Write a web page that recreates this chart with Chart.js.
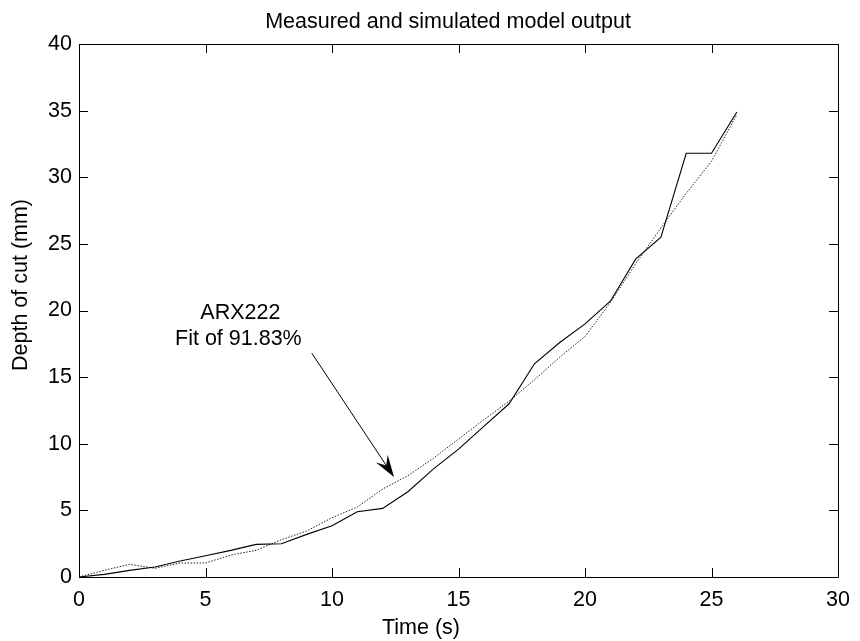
<!DOCTYPE html>
<html>
<head>
<meta charset="utf-8">
<script src="https://cdn.jsdelivr.net/npm/chart.js@4/dist/chart.umd.min.js"></script>
<style>
html,body{margin:0;padding:0;background:#fff;}
#wrap{width:860px;height:641px;}
</style>
</head>
<body>
<div id="wrap"><canvas id="c" width="860" height="641"></canvas></div>
<script>
// ---- data ----
const timeS = [0,1,2,3,4,5,6,7,8,9,10,11,12,13,14,15,16,17,18,19,20,21,22,23,24,25,26];
const measured = [0,0.2,0.5,0.75,1.2,1.6,2.0,2.45,2.5,3.2,3.85,4.9,5.15,6.4,8.1,9.6,11.3,13.0,16.0,17.6,19.0,20.7,23.85,25.5,31.8,31.8,34.9];
const simulated = [0,0.5,0.95,0.65,1.05,1.05,1.65,2.0,2.8,3.45,4.45,5.25,6.6,7.6,8.9,10.35,11.8,13.2,14.8,16.5,18.05,20.6,23.5,26.2,28.8,31.2,34.7];
const xTicks = [0,5,10,15,20,25,30];
const yTicks = [0,5,10,15,20,25,30,35,40];
const titleText = 'Measured and simulated model output';
const xTitle = 'Time (s)';
const yTitle = 'Depth of cut (mm)';
const noteLines = ['ARX222', 'Fit of 91.83%'];
const noteAt = {x: 6.3, y: 18.8};          // text centre, data units
const arrowFrom = {x: 9.2, y: 16.8};        // data units
const arrowTo = {x: 12.45, y: 7.5};         // data units

const FONT = '"Liberation Sans", Arial, Helvetica, sans-serif';
const FS = 21.5;

const toPts = (xs, ys) => xs.map((x, i) => ({x: x, y: ys[i]}));

const framePlugin = {
  id: 'frame',
  afterDraw(chart) {
    const ctx = chart.ctx, a = chart.chartArea;
    const xs = chart.scales.x, ys = chart.scales.y;
    ctx.save();
    ctx.strokeStyle = '#000';
    ctx.lineWidth = 1;
    // box
    ctx.beginPath();
    ctx.rect(Math.round(a.left) + 0.5, Math.round(a.top) + 0.5, Math.round(a.right - a.left), Math.round(a.bottom - a.top));
    ctx.stroke();
    // inward ticks on all sides
    const TL = 9;
    ctx.beginPath();
    xTicks.forEach(v => {
      const px = Math.round(xs.getPixelForValue(v)) + 0.5;
      ctx.moveTo(px, a.bottom); ctx.lineTo(px, a.bottom - TL);
      ctx.moveTo(px, a.top); ctx.lineTo(px, a.top + TL);
    });
    yTicks.forEach(v => {
      const py = Math.round(ys.getPixelForValue(v)) + 0.5;
      ctx.moveTo(a.left, py); ctx.lineTo(a.left + TL, py);
      ctx.moveTo(a.right, py); ctx.lineTo(a.right - TL, py);
    });
    ctx.stroke();
    ctx.fillStyle = '#000';
    ctx.font = FS + 'px ' + FONT;
    ctx.textAlign = 'center';
    // title
    ctx.textBaseline = 'alphabetic';
    ctx.fillText(titleText, 448, 28);
    // x axis title
    ctx.fillText(xTitle, 421, 634);
    // y axis title (rotated)
    ctx.save();
    ctx.translate(27, 285);
    ctx.rotate(-Math.PI / 2);
    ctx.fillText(yTitle, 0, 0);
    ctx.restore();
    // annotation text
    const tx = xs.getPixelForValue(noteAt.x), ty = ys.getPixelForValue(noteAt.y);
    ctx.textBaseline = 'middle';
    ctx.fillText(noteLines[0], tx + 2, ty - 13);
    ctx.fillText(noteLines[1], tx, ty + 13);
    // arrow
    const x0 = xs.getPixelForValue(arrowFrom.x), y0 = ys.getPixelForValue(arrowFrom.y);
    const x1 = xs.getPixelForValue(arrowTo.x), y1 = ys.getPixelForValue(arrowTo.y);
    const dx = x1 - x0, dy = y1 - y0, len = Math.hypot(dx, dy);
    const ux = dx / len, uy = dy / len, nx = -uy, ny = ux;
    const L = 22, W = 7, N = 14;
    ctx.beginPath();
    ctx.moveTo(x0, y0);
    ctx.lineTo(x1 - N * ux, y1 - N * uy);
    ctx.stroke();
    ctx.beginPath();
    ctx.moveTo(x1, y1);
    ctx.lineTo(x1 - L * ux + W * nx, y1 - L * uy + W * ny);
    ctx.lineTo(x1 - N * ux, y1 - N * uy);
    ctx.lineTo(x1 - L * ux - W * nx, y1 - L * uy - W * ny);
    ctx.closePath();
    ctx.fill();
    ctx.restore();
  }
};

new Chart(document.getElementById('c'), {
  type: 'line',
  data: {
    datasets: [
      {
        label: 'Measured',
        data: toPts(timeS, measured),
        borderColor: '#000',
        borderWidth: 1.1,
        pointRadius: 0,
        tension: 0,
        fill: false
      },
      {
        label: 'Simulated',
        data: toPts(timeS, simulated),
        borderColor: '#222',
        borderWidth: 1,
        borderDash: [1.5, 1.5],
        pointRadius: 0,
        tension: 0,
        fill: false
      }
    ]
  },
  options: {
    responsive: false,
    animation: false,
    devicePixelRatio: 1,
    layout: {padding: {top: 44, right: 13, bottom: 0, left: 0}},
    plugins: {
      legend: {display: false},
      title: {display: false},
      tooltip: {enabled: false}
    },
    scales: {
      x: {
        type: 'linear',
        min: 0, max: 30,
        afterBuildTicks(s) { s.ticks = xTicks.map(v => ({value: v})); },
        afterFit(s) { s.height = 64; },
        grid: {display: false, drawTicks: false},
        border: {display: false},
        ticks: {color: '#000', padding: 10, maxRotation: 0, font: {family: FONT, size: FS}},
        title: {display: false}
      },
      y: {
        type: 'linear',
        min: 0, max: 40,
        afterBuildTicks(s) { s.ticks = yTicks.map(v => ({value: v})); },
        afterFit(s) { s.width = 79; },
        grid: {display: false, drawTicks: false},
        border: {display: false},
        ticks: {color: '#000', padding: 7, font: {family: FONT, size: FS}},
        title: {display: false}
      }
    }
  },
  plugins: [framePlugin]
});
</script>
</body>
</html>
